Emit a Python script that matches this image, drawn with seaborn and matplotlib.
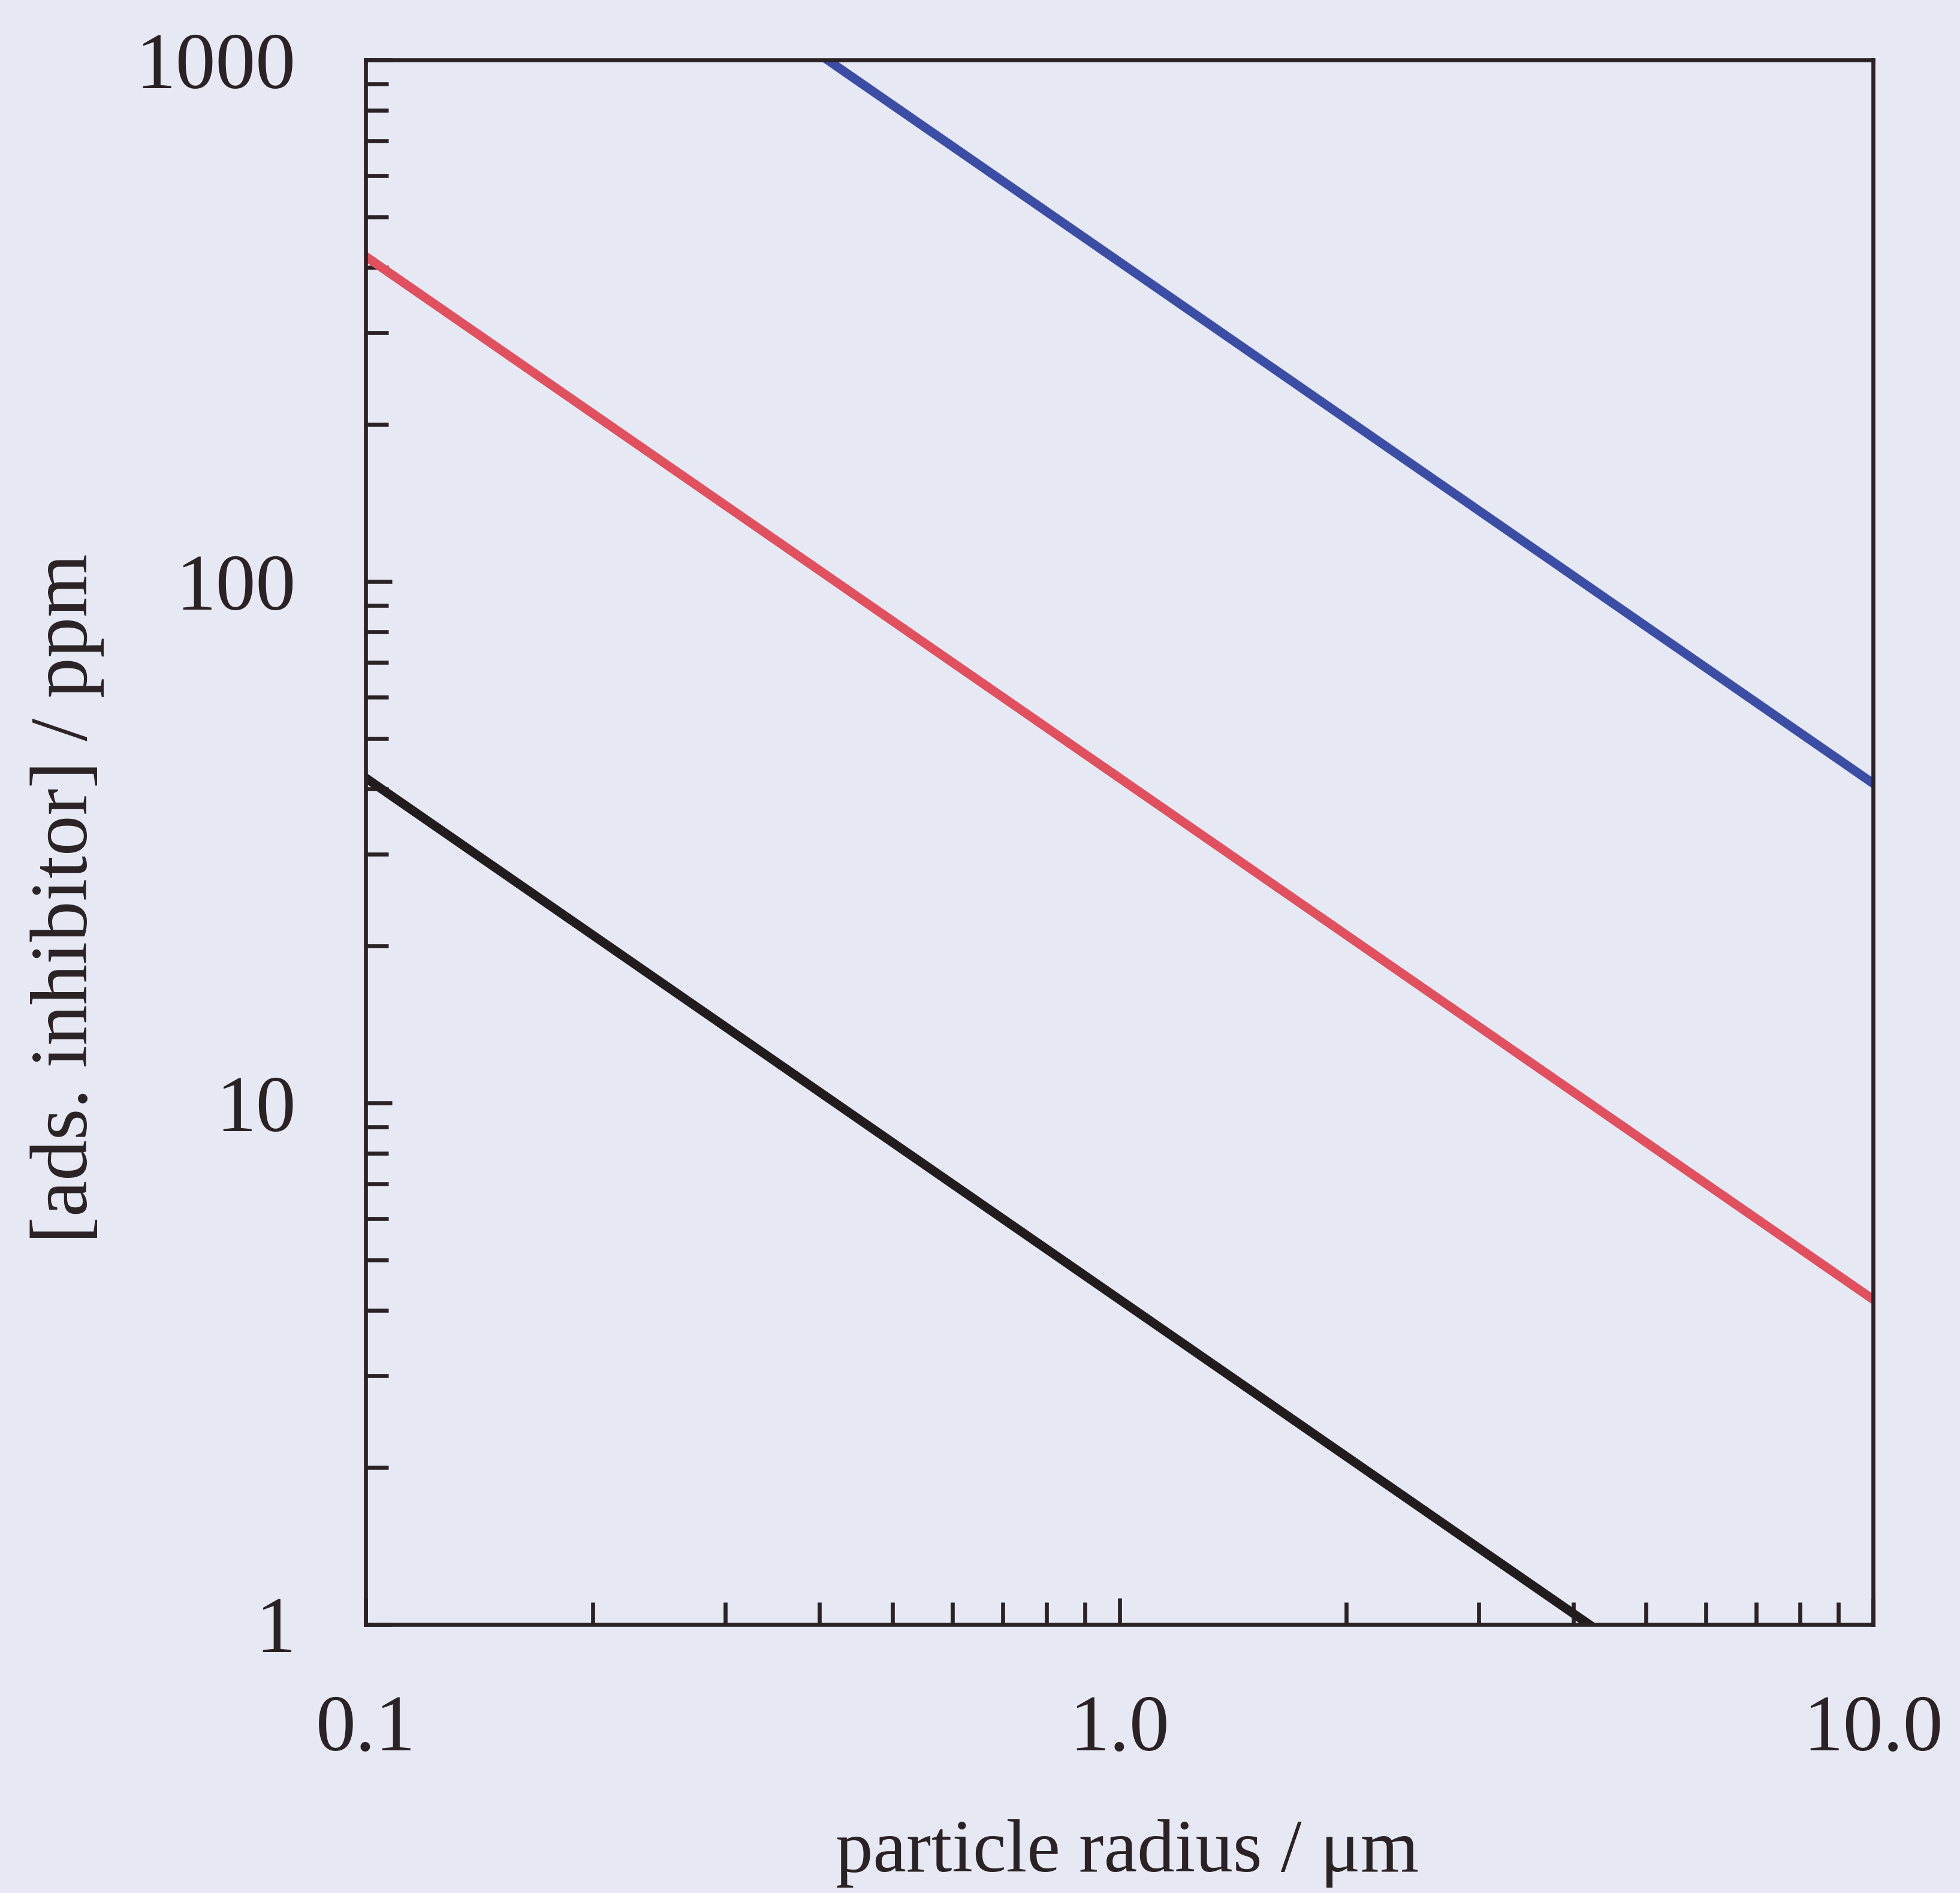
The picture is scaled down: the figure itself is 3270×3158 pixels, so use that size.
import numpy as np
import pandas as pd
import matplotlib
matplotlib.use("Agg")
import matplotlib.pyplot as plt
from matplotlib.ticker import FixedLocator, FixedFormatter, LogLocator, NullFormatter
import seaborn as sns

# ---- data (endpoints of straight lines on log-log axes) ----
radius_um = [0.1, 10.0]
conc_black = [42.0, 0.42]
conc_red = [420.0, 4.2]
conc_blue = [4100.0, 41.0]
series_names = ["black", "red", "blue"]
series_colors = ["#231c1e", "#e0505f", "#3c4da6"]

x_ticks = [0.1, 1.0, 10.0]
x_tick_labels = ["0.1", "1.0", "10.0"]
y_ticks = [1, 10, 100, 1000]
y_tick_labels = ["1", "10", "100", "1000"]

x_label = "particle radius / \u03bcm"
y_label = "[ads. inhibitor] / ppm"

# ---- build table ----
rows = []
for name, vals in zip(series_names, [conc_black, conc_red, conc_blue]):
    for r, c in zip(radius_um, vals):
        rows.append({"radius": r, "conc": c, "series": name})
df = pd.DataFrame(rows)

sns.set_theme(style="ticks")
plt.rcParams["font.family"] = ["Liberation Serif", "DejaVu Serif"]

bg = "#e6e8f4"
ink = "#2a2224"
W, H, DPI = 3270, 3158, 300
fig = plt.figure(figsize=(W / DPI, H / DPI), dpi=DPI, facecolor=bg)
left, right, top, bottom = 610, 3125, 100, 2710
ax = fig.add_axes([left / W, 1 - bottom / H, (right - left) / W, (bottom - top) / H])
ax.set_facecolor(bg)

sns.lineplot(data=df, x="radius", y="conc", hue="series",
             palette=dict(zip(series_names, series_colors)),
             linewidth=3.6, legend=False, ax=ax, estimator=None, sort=False)

ax.set_xscale("log")
ax.set_yscale("log")
ax.set_xlim(0.1, 10.0)
ax.set_ylim(1, 1000)

ax.xaxis.set_major_locator(FixedLocator(x_ticks))
ax.xaxis.set_major_formatter(FixedFormatter(x_tick_labels))
ax.yaxis.set_major_locator(FixedLocator(y_ticks))
ax.yaxis.set_major_formatter(FixedFormatter(y_tick_labels))
ax.xaxis.set_minor_locator(LogLocator(base=10, subs=np.arange(2, 10)))
ax.yaxis.set_minor_locator(LogLocator(base=10, subs=np.arange(2, 10)))
ax.xaxis.set_minor_formatter(NullFormatter())
ax.yaxis.set_minor_formatter(NullFormatter())

ax.tick_params(which="both", direction="in", top=False, right=False,
               color=ink, width=1.6, labelsize=32, labelcolor=ink, pad=28)
ax.tick_params(which="major", length=10.5)
ax.tick_params(which="minor", length=9)

for s in ax.spines.values():
    s.set_visible(True)
    s.set_color(ink)
    s.set_linewidth(1.6)

ax.set_xlabel(x_label, fontsize=30, color=ink)
ax.set_ylabel(y_label, fontsize=32.5, color=ink)
ax.xaxis.label.set_va("center")
ax.yaxis.label.set_va("center")
ax.xaxis.set_label_coords(0.505, -0.1465)
ax.yaxis.set_label_coords(-0.198, 0.464)

fig.savefig("out.png", dpi=DPI, facecolor=bg)
